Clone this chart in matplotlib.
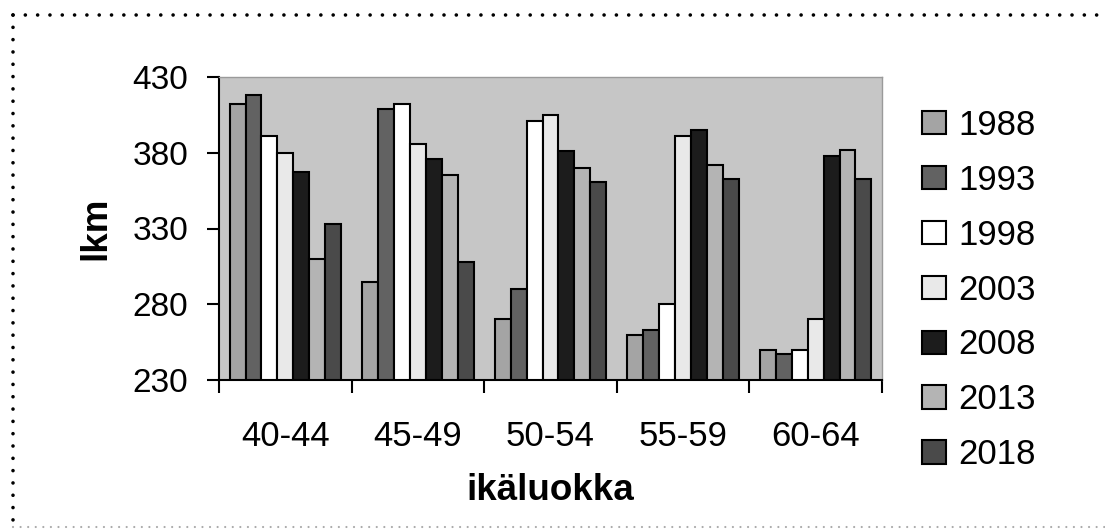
import numpy as np
import matplotlib
matplotlib.use('Agg')
import matplotlib.pyplot as plt
from matplotlib.lines import Line2D

plt.rcParams['font.family'] = ['Liberation Sans', 'DejaVu Sans']

groups = ['40-44', '45-49', '50-54', '55-59', '60-64']
years = ['1988', '1993', '1998', '2003', '2008', '2013', '2018']
values = {
    '1988': [412, 295, 270, 260, 250],
    '1993': [418, 409, 290, 263, 247],
    '1998': [391, 412, 401, 280, 250],
    '2003': [380, 386, 405, 391, 270],
    '2008': [367, 376, 381, 395, 378],
    '2013': [310, 365, 370, 372, 382],
    '2018': [333, 308, 361, 363, 363],
}
fills = ['#a4a4a4', '#626262', '#ffffff', '#e9e9e9', '#1c1c1c', '#b4b4b4', '#4a4a4a']

fig = plt.figure(figsize=(11.05, 5.30), dpi=100)
ax = fig.add_axes([219/1105, 1-380/530, (882-219)/1105, (380-77)/530])
ax.set_facecolor('#c6c6c6')

x = np.arange(len(groups))
w = 0.12
for i, yr in enumerate(years):
    ax.bar(x + (i - 3) * w, np.array(values[yr]) - 230, w, bottom=230,
           color=fills[i], edgecolor='black', linewidth=1.5, label=yr, zorder=3)

ax.set_xlim(-0.5, 4.5)
ax.set_ylim(230, 430)
ax.set_yticks([230, 280, 330, 380, 430])
ax.set_xticks(x)
ax.set_xticklabels(groups)
ax.set_xticks(np.arange(-0.5, 5, 1), minor=True)
ax.tick_params(axis='x', which='major', length=0, pad=29, labelsize=25)
ax.tick_params(axis='x', which='minor', length=9, width=1.5, direction='out')
ax.tick_params(axis='y', length=9, width=1.5, pad=13, labelsize=24)

for s in ['left', 'bottom']:
    ax.spines[s].set_linewidth(1.5)
for s in ['top', 'right']:
    ax.spines[s].set_color('#9a9a9a')
    ax.spines[s].set_linewidth(1.0)

ax.set_ylabel('lkm', fontsize=26.5, fontweight='bold', labelpad=14)
ax.set_xlabel('ikäluokka', fontsize=26.5, fontweight='bold', labelpad=14)

ax.legend(loc='center left', bbox_to_anchor=(922/1105, 1-290/530),
          bbox_transform=fig.transFigure, frameon=False, fontsize=25,
          handlelength=0.7, handleheight=0.65, handletextpad=0.35,
          labelspacing=0.63, borderpad=0, borderaxespad=0)

# dotted border around the chart
dot = dict(color='black', linewidth=2.6, linestyle=(0, (0.01, 3.4)),
           dash_capstyle='round', transform=fig.transFigure)
fig.add_artist(Line2D([13/1105, 1], [1-15/530, 1-15/530], **dot))
fig.add_artist(Line2D([13/1105, 13/1105], [1-15/530, 1-527/530], **dot))
dot['color'] = '#aaaaaa'
dot['linewidth'] = 1.6
fig.add_artist(Line2D([13/1105, 1], [1-527/530, 1-527/530], **dot))

fig.savefig('out.png', dpi=100)
